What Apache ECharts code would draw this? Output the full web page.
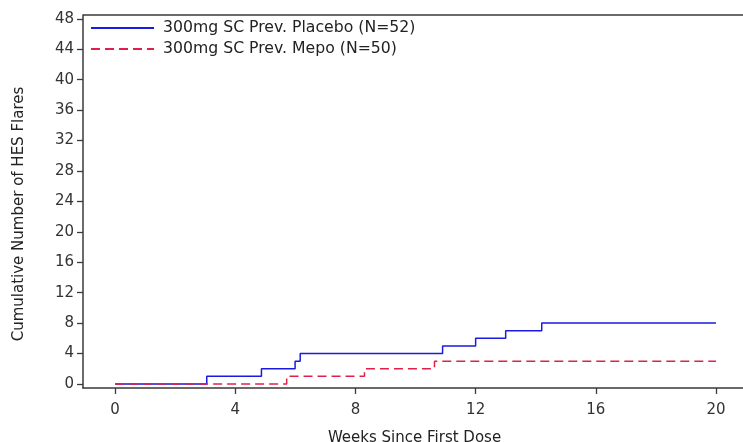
<!DOCTYPE html>
<html>
<head>
<meta charset="utf-8">
<script src="https://cdn.jsdelivr.net/npm/echarts@6/dist/echarts.min.js"></script>
<style>
  html, body { margin: 0; padding: 0; background: #fff; }
  #chart { width: 743px; height: 442px; }
</style>
</head>
<body>
<div id="chart"></div>
<script>
// Cumulative HES flares by week since first dose
const seriesNames = ['300mg SC Prev. Placebo (N=52)', '300mg SC Prev. Mepo (N=50)'];
const placeboWeeks = [0, 3.05, 4.87, 5.99, 6.16, 10.9, 12.0, 13.0, 14.2, 20];
const placeboFlares = [0, 1, 2, 3, 4, 5, 6, 7, 8, 8];
const mepoWeeks = [0, 5.71, 8.3, 10.63, 20];
const mepoFlares = [0, 1, 2, 3, 3];
const xTicks = [0, 4, 8, 12, 16, 20];
const yTicks = [0, 4, 8, 12, 16, 20, 24, 28, 32, 36, 40, 44, 48];

const pairs = (xs, ys) => xs.map((x, i) => [x, ys[i]]);
const font = 'DejaVu Sans';
const axisColor = '#3a3a3a';

const chart = echarts.init(document.getElementById('chart'), null, { renderer: 'canvas' });
chart.setOption({
  animation: false,
  backgroundColor: '#fff',
  grid: { left: 83, top: 15, width: 663, height: 373, containLabel: false, outerBoundsMode: 'none' },
  legend: {
    orient: 'vertical',
    left: 90,
    top: 20,
    padding: 0,
    itemWidth: 63,
    itemHeight: 14,
    itemGap: 5,
    itemStyle: { opacity: 0 },
    textStyle: { fontFamily: font, fontSize: 15.7, color: '#222', padding: [0, 0, 0, 4] },
    data: seriesNames
  },
  xAxis: {
    type: 'value',
    min: -1.07,
    max: 21,
    name: 'Weeks Since First Dose',
    nameLocation: 'middle',
    nameGap: 43,
    nameTextStyle: { fontFamily: font, fontSize: 15, color: '#222' },
    splitLine: { show: false },
    axisLine: { show: true, onZero: false, lineStyle: { color: axisColor, width: 1.5 } },
    axisTick: { show: true, length: 6, customValues: xTicks, lineStyle: { color: axisColor, width: 1.3 } },
    axisLabel: { customValues: xTicks, fontFamily: font, fontSize: 15, color: '#333', margin: 15 }
  },
  yAxis: {
    type: 'value',
    min: -0.53,
    max: 48.5,
    splitLine: { show: false },
    axisLine: { show: true, onZero: false, lineStyle: { color: axisColor, width: 1.5 } },
    axisTick: { show: true, length: 6, customValues: yTicks, lineStyle: { color: axisColor, width: 1.3 } },
    axisLabel: { customValues: yTicks, fontFamily: font, fontSize: 15, color: '#333', margin: 9 }
  },
  graphic: [
    {
      type: 'line',
      shape: { x1: 83, y1: 15, x2: 743, y2: 15 },
      style: { stroke: axisColor, lineWidth: 1.5 }
    },
    {
      type: 'text',
      x: 19, y: 214,
      rotation: Math.PI / 2,
      style: {
        text: 'Cumulative Number of HES Flares',
        fontFamily: font, fontSize: 15, fill: '#222',
        align: 'center', verticalAlign: 'middle'
      }
    }
  ],
  series: [
    {
      name: seriesNames[0],
      type: 'line',
      step: 'end',
      symbol: 'none',
      data: pairs(placeboWeeks, placeboFlares),
      lineStyle: { color: '#1a1ae0', width: 1.5 },
      itemStyle: { color: '#1a1ae0' }
    },
    {
      name: seriesNames[1],
      type: 'line',
      step: 'end',
      symbol: 'none',
      data: pairs(mepoWeeks, mepoFlares),
      lineStyle: { color: '#e0204a', width: 1.5, type: [9, 5] },
      itemStyle: { color: '#e0204a' }
    }
  ]
});
</script>
</body>
</html>
